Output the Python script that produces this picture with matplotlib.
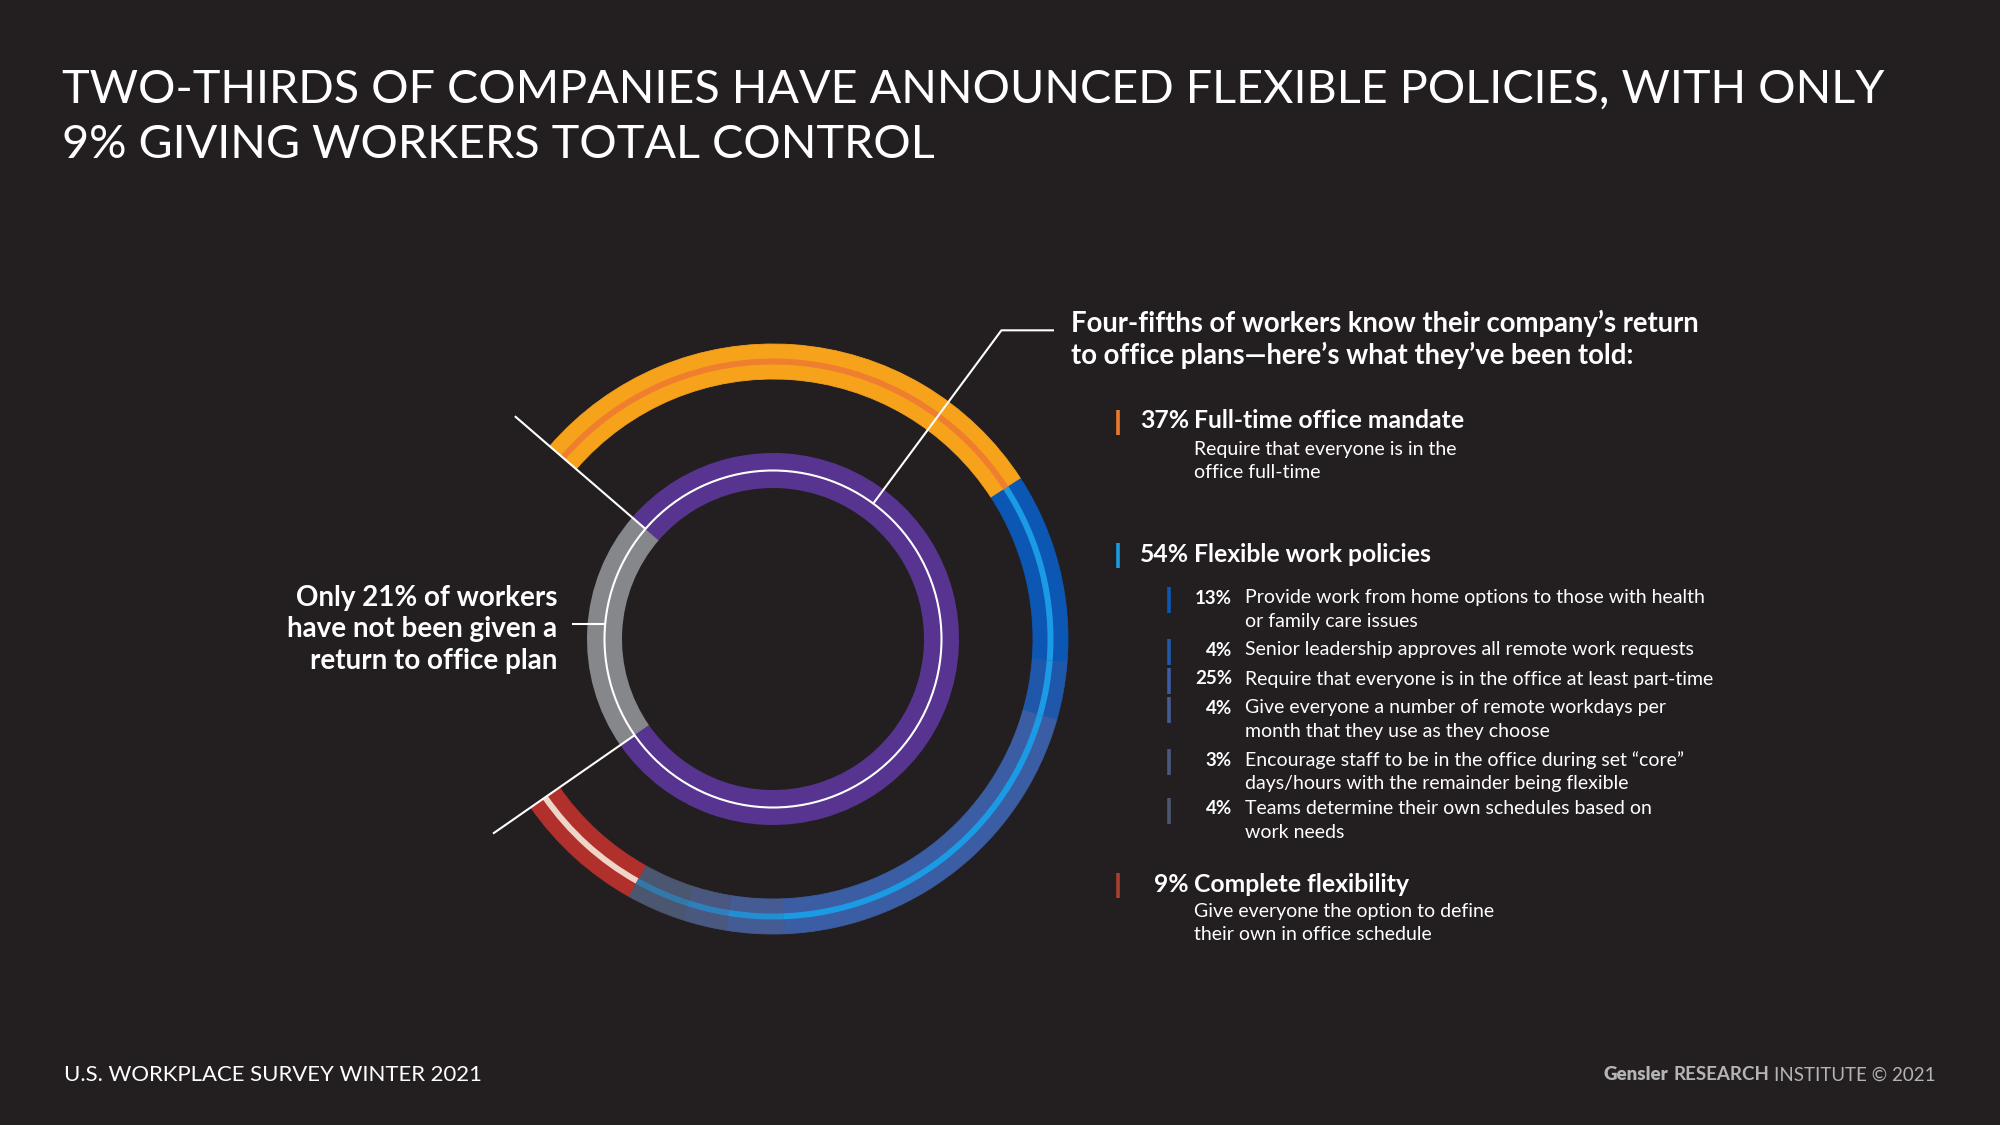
import numpy as np
import matplotlib.pyplot as plt
from matplotlib.patches import Circle

plt.rcParams['font.family'] = ['Lato', 'DejaVu Sans']

W, H = 2000, 1125
BG = '#231f20'

# --- data ---------------------------------------------------------------
plan_known = 79     # % of workers who know their company's return plan
plan_unknown = 21   # % who have not been given one

group_pct = [37, 54, 9]
group_name = ['Full-time office mandate', 'Flexible work policies', 'Complete flexibility']
group_desc = [['Require that everyone is in the', 'office full-time'],
              [],
              ['Give everyone the option to define', 'their own in office schedule']]

flex_pct = [13, 4, 25, 4, 3, 4]
flex_desc = [
    ['Provide work from home options to those with health', 'or family care issues'],
    ['Senior leadership approves all remote work requests'],
    ['Require that everyone is in the office at least part-time'],
    ['Give everyone a number of remote workdays per', 'month that they use as they choose'],
    ['Encourage staff to be in the office during set \u201ccore\u201d', 'days/hours with the remainder being flexible'],
    ['Teams determine their own schedules based on', 'work needs'],
]

title_lines = ['TWO-THIRDS OF COMPANIES HAVE ANNOUNCED FLEXIBLE POLICIES, WITH ONLY',
               '9% GIVING WORKERS TOTAL CONTROL']
heading_lines = ['Four-fifths of workers know their company\u2019s return',
                 'to office plans\u2014here\u2019s what they\u2019ve been told:']
unknown_lines = ['Only 21% of workers', 'have not been given a', 'return to office plan']

# --- style --------------------------------------------------------------
ORANGE, ORANGE_STRIPE = '#f7a21b', '#ef7f2f'
FLEX_COLORS = ['#0b57b3', '#1f58ab', '#3a5da3', '#455b93', '#4a5880', '#4b5670']
FLEX_STRIPE = '#1b9be3'
FLEX_STRIPE_ALPHA = [1, 1, 1, 0.8, 0.6, 0.5]
RED, RED_STRIPE = '#b2302b', '#efd4c8'
PURPLE, GRAY = '#56348f', '#85878b'

CX, CY = 773, 639          # donut centre (px)
GAP_CENTER = 177           # where the "no plan" gap sits (deg)
R_OUT, R_IN, RING_W = 295, 186, 35

fig = plt.figure(figsize=(W / 100, H / 100), dpi=100, facecolor=BG)
ax = fig.add_axes([0, 0, 1, 1])
ax.set_facecolor(BG)


def fpos(x, y):
    return x / W, 1 - y / H


start = GAP_CENTER - plan_unknown * 3.6 / 2

# outer ring: what the 79% were told
outer_vals = np.array([group_pct[0]] + flex_pct + [group_pct[2]], dtype=float)
outer_frac = outer_vals / outer_vals.sum() * plan_known / 100
outer_colors = [ORANGE] + FLEX_COLORS + [RED]
ax.pie(outer_frac, radius=R_OUT, startangle=start, counterclock=False, normalize=False,
       colors=outer_colors, wedgeprops=dict(width=RING_W, linewidth=0.6))
for w, c in zip(ax.patches[-len(outer_frac):], outer_colors):
    w.set_edgecolor(c)

stripe_colors = [ORANGE_STRIPE] + [FLEX_STRIPE] * len(flex_pct) + [RED_STRIPE]
stripe_alpha = [1] + FLEX_STRIPE_ALPHA + [1]
stripes, _ = ax.pie(outer_frac, radius=R_OUT - RING_W / 2 + 3, startangle=start, counterclock=False,
                    normalize=False, colors=stripe_colors, wedgeprops=dict(width=6, linewidth=0))
for w, a in zip(stripes, stripe_alpha):
    w.set_alpha(a)

# inner ring: known vs not known
ax.pie([plan_known, plan_unknown], radius=R_IN, startangle=start, counterclock=False,
       colors=[PURPLE, GRAY], wedgeprops=dict(width=RING_W, linewidth=0))
ax.add_patch(Circle((0, 0), R_IN - RING_W / 2, fill=False, ec='white', lw=1.5))

# callout lines
r0 = R_IN - RING_W / 2
for a in [start, start - plan_known * 3.6]:
    t = np.radians(a)
    ax.plot([r0 * np.cos(t), 341 * np.cos(t)], [r0 * np.sin(t), 341 * np.sin(t)],
            color='white', lw=1.5, solid_capstyle='butt')
t = np.radians(53.5)
ax.plot([r0 * np.cos(t), 384 * np.cos(t), 1054 - CX], [r0 * np.sin(t), 384 * np.sin(t), 384 * np.sin(t)],
        color='white', lw=1.5, solid_capstyle='butt')
ax.plot([572 - CX, -r0 + 1], [CY - 624, CY - 624], color='white', lw=1.5, solid_capstyle='butt')


def vbar(x, yc, color, h=25):
    ax.plot([x - CX, x - CX], [CY - yc + h / 2, CY - yc - h / 2], color=color, lw=2.6,
            solid_capstyle='butt')


# legend: main groups
group_y = [421, 554, 884]
group_bar = ['#ec7a2c', '#1a9be0', '#a8402f']
for pct, name, desc, y, bc in zip(group_pct, group_name, group_desc, group_y, group_bar):
    vbar(1118, y + 1, bc)
    fig.text(*fpos(1189, y), f'{pct}%', color='white', fontsize=17.8, fontweight='bold',
             ha='right', va='center')
    fig.text(*fpos(1194, y), name, color='white', fontsize=17.8, fontweight='bold',
             ha='left', va='center')
    for k, line in enumerate(desc):
        fig.text(*fpos(1194, y + 28 + 23 * k), line, color='white', fontsize=14,
                 ha='left', va='center')

# legend: flexible sub-items
flex_y = [598, 650, 679, 708, 760, 809]
for pct, desc, y, c in zip(flex_pct, flex_desc, flex_y, FLEX_COLORS):
    vbar(1169, y + 2, c, h=26)
    fig.text(*fpos(1232, y), f'{pct}%', color='white', fontsize=13.5, fontweight='bold',
             ha='right', va='center')
    for k, line in enumerate(desc):
        fig.text(*fpos(1245, y + 23 * k), line, color='white', fontsize=14,
                 ha='left', va='center')

# heading and left label
for k, line in enumerate(heading_lines):
    fig.text(*fpos(1071, 323 + 32 * k), line, color='white', fontsize=19.8, fontweight='bold',
             ha='left', va='center')
for k, line in enumerate(unknown_lines):
    fig.text(*fpos(557, 598 + 31.5 * k), line, color='white', fontsize=20, fontweight='bold',
             ha='right', va='center')

# title
for k, line in enumerate(title_lines):
    fig.text(*fpos(62, 90 + 55 * k), line, color='white', fontsize=33.7, fontweight='normal',
             ha='left', va='center')

# footer
fig.text(*fpos(64, 1075), 'U.S. WORKPLACE SURVEY WINTER 2021', color='white', fontsize=15.9,
         ha='left', va='center')
renderer = fig.canvas.get_renderer()
x_right = 1936
for txt, wt in [('INSTITUTE \u00a9 2021', 'normal'), ('RESEARCH', 'bold'), ('Gensler', 'heavy')]:
    t = fig.text(*fpos(x_right, 1075), txt, color='#b4b4b4', fontsize=13.5, fontweight=wt,
                 ha='right', va='center')
    bb = t.get_window_extent(renderer)
    x_right = bb.x0 - 5

ax.set_xlim(-CX, W - CX)
ax.set_ylim(-(H - CY), CY)
ax.set_aspect('auto')
ax.axis('off')

fig.savefig('out.png', dpi=100, facecolor=BG)
